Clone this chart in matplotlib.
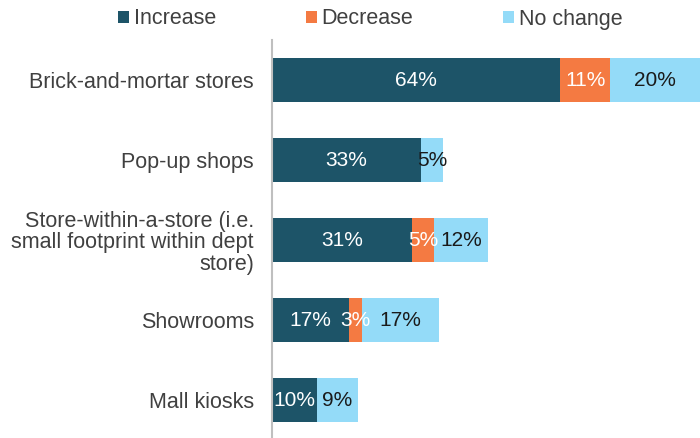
import matplotlib.pyplot as plt
import numpy as np

plt.rcParams['font.family'] = ['Liberation Sans', 'DejaVu Sans']

categories = ['Brick-and-mortar stores', 'Pop-up shops',
              'Store-within-a-store (i.e.\nsmall footprint within dept\nstore)',
              'Showrooms', 'Mall kiosks']
increase = [64, 33, 31, 17, 10]
decrease = [11, 0, 5, 3, 0]
no_change = [20, 5, 12, 17, 9]

series = [('Increase', increase, '#1d5468', 'white'),
          ('Decrease', decrease, '#f47a42', 'white'),
          ('No change', no_change, '#94dbf8', '#1a1a1a')]

fig = plt.figure(figsize=(7, 4.38), dpi=100)
ax = fig.add_axes([272 / 700, 0, 1 - 272 / 700, 398 / 438])

y = np.arange(len(categories))
left = np.zeros(len(categories))
for name, vals, col, tcol in series:
    vals = np.array(vals, dtype=float)
    ax.barh(y, vals, left=left, height=0.55, color=col, label=name)
    for yi, l, v in zip(y, left, vals):
        if v > 0:
            ax.text(l + v / 2, yi, f'{int(v)}%', ha='center', va='center',
                    color=tcol, fontsize=15)
    left += vals

ax.set_xlim(0, 95)
ax.set_ylim(4.475, -0.5)
ax.set_yticks(y)
ax.set_yticklabels(categories, fontsize=15.5, color='#404040', linespacing=1.05)
ax.tick_params(axis='y', length=0, pad=13)
ax.set_xticks([])
for s in ['top', 'right', 'bottom']:
    ax.spines[s].set_visible(False)
ax.spines['left'].set_color('#bfbfbf')
ax.spines['left'].set_linewidth(1.5)

for t in ax.get_yticklabels():
    t.set_multialignment('right')

leg = fig.legend(loc='center', bbox_to_anchor=(0.529, 1 - 19 / 438), ncol=3,
                 frameon=False, fontsize=15.5, handlelength=0.5, handleheight=0.5,
                 handletextpad=0.2, columnspacing=4.2, borderpad=0)
for t in leg.get_texts():
    t.set_color('#404040')

fig.savefig('out.png', dpi=100)
